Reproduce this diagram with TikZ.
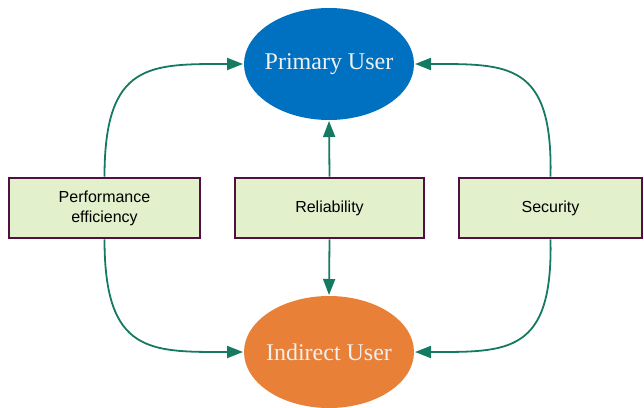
\documentclass[tikz,border=0pt]{standalone}
\usepackage{fontspec}
\setmainfont{Liberation Serif}
\setsansfont{Liberation Sans}
\usetikzlibrary{shapes.geometric,arrows.meta}

\definecolor{linkgreen}{RGB}{22,122,98}
\definecolor{userblue}{RGB}{0,112,192}
\definecolor{userorange}{RGB}{232,128,56}
\definecolor{boxfill}{RGB}{226,240,204}
\definecolor{boxedge}{RGB}{80,16,66}

\newcommand{\usertext}[1]{\makebox[0pt]{#1}}

\begin{document}
\begin{tikzpicture}[x=1pt,y=-1pt,
  user/.style={ellipse, minimum width=170pt, minimum height=112pt, inner sep=0pt,
    outer sep=0pt, text=white!94!black, font=\fontsize{24}{28}\selectfont},
  quality/.style={rectangle, draw=boxedge, line width=2.6pt, fill=boxfill,
    minimum height=60pt, inner sep=2pt, align=center,
    font=\sffamily\fontsize{16}{20}\selectfont},
  link/.style={draw=linkgreen, line width=1.8pt,
    -{Triangle[length=16pt,width=12pt]}, shorten >=1pt}
]
\useasboundingbox (0,0) rectangle (644,407);

% the two user groups
\node[user, fill=userblue]   (primary)  at (329,64)  {\usertext{Primary User}};
\node[user, fill=userorange] (indirect) at (329,352) {\usertext{Indirect User}};

% quality characteristics
\node[quality, minimum width=191pt] (perf) at (104.5,208) {Performance\\efficiency};
\node[quality, minimum width=189pt] (rel)  at (329.5,208) {Reliability};
\node[quality, minimum width=183pt] (sec)  at (550.5,208) {Security};

% connectors
\draw[link] (perf.north) .. controls (104.5,62) and (150,64) .. (primary.west);
\draw[link] (perf.south) .. controls (104.5,354) and (150,352) .. (indirect.west);
\draw[link] (sec.north) .. controls (553,62) and (508,64) .. (primary.east);
\draw[link] (sec.south) .. controls (553,354) and (508,352) .. (indirect.east);
\draw[link] (rel.north) -- (primary.south);
\draw[link] (rel.south) -- (indirect.north);
\end{tikzpicture}
\end{document}
